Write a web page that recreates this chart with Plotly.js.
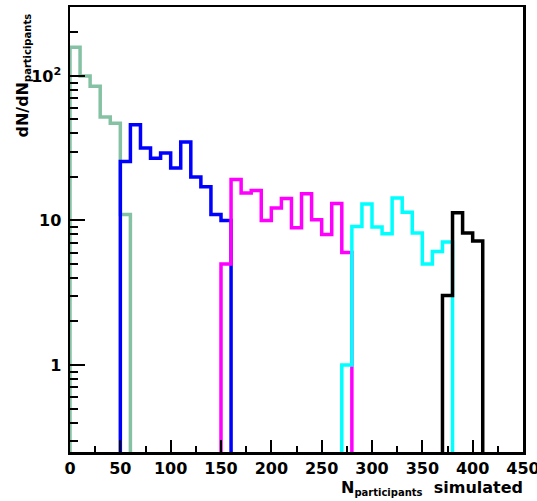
<!DOCTYPE html>
<html>
<head>
<meta charset="utf-8">
<script src="https://cdn.plot.ly/plotly-3.0.1.min.js"></script>
<style>
  html, body { margin: 0; padding: 0; background: #ffffff; }
  #chart { width: 537px; height: 501px; }
</style>
</head>
<body>
<div id="chart"></div>
<script>
// Participant-number distributions per centrality class (bin width 10)
const BIN_WIDTH = 10;

const greenBins   = [0, 10, 20, 30, 40, 50];
const greenCounts = [158, 100, 85, 52, 47, 11];

const blueBins   = [50, 60, 70, 80, 90, 100, 110, 120, 130, 140, 150];
const blueCounts = [25.6, 45.9, 31.7, 27.0, 29.3, 23.1, 34.9, 20.0, 17.1, 11.0, 10.0];

const magentaBins   = [150, 160, 170, 180, 190, 200, 210, 220, 230, 240, 250, 260, 270];
const magentaCounts = [5.0, 19.2, 15.5, 16.1, 10.0, 12.2, 14.2, 8.9, 15.3, 10.1, 8.0, 13.1, 6.0];

const cyanBins   = [270, 280, 290, 300, 310, 320, 330, 340, 350, 360, 370];
const cyanCounts = [1.0, 9.1, 13.0, 9.0, 8.1, 14.3, 11.4, 8.2, 5.0, 6.1, 7.1];

const blackBins   = [370, 380, 390, 400];
const blackCounts = [3.03, 11.3, 8.2, 7.2];

// Axis ticks
const xTicks = [0, 50, 100, 150, 200, 250, 300, 350, 400, 450];
const xMinorTicks = [25, 75, 125, 175, 225, 275, 325, 375, 425];
const yTicks = [1, 10, 100];
const yTickText = ['1', '10', '10<sup>2</sup>'];
const yMinorTicks = [0.3, 0.4, 0.5, 0.6, 0.7, 0.8, 0.9,
                     2, 3, 4, 5, 6, 7, 8, 9,
                     20, 30, 40, 50, 60, 70, 80, 90, 200];

const Y_MIN = 0.25, Y_MAX = 300;
// histogram outline drops below the visible range at both ends
const FLOOR = 0.05;

function histTrace(bins, counts, color) {
  const x = [bins[0]];
  const y = [FLOOR];
  for (let i = 0; i < bins.length; i++) {
    x.push(bins[i]);
    y.push(counts[i]);
  }
  x.push(bins[bins.length - 1] + BIN_WIDTH);
  y.push(FLOOR);
  return {
    type: 'scatter',
    mode: 'lines',
    x: x,
    y: y,
    line: { shape: 'hv', color: color, width: 3.5 },
    hoverinfo: 'skip',
    showlegend: false
  };
}

const data = [
  histTrace(greenBins, greenCounts, '#85c2a3'),
  histTrace(blueBins, blueCounts, '#0000ff'),
  histTrace(magentaBins, magentaCounts, '#ff00ff'),
  histTrace(cyanBins, cyanCounts, '#00ffff'),
  histTrace(blackBins, blackCounts, '#000000')
];

const tickFont = { family: 'DejaVu Sans', size: 16, color: '#000000', weight: 'bold' };

const layout = {
  width: 537,
  height: 501,
  margin: { l: 70, r: 14, t: 7, b: 49, pad: 0 },
  paper_bgcolor: '#ffffff',
  plot_bgcolor: '#ffffff',
  showlegend: false,
  xaxis: {
    range: [0, 450],
    tickmode: 'array',
    tickvals: xTicks,
    ticktext: xTicks.map(String),
    tickangle: 0,
    ticklabeloverflow: 'allow',
    ticks: 'inside',
    ticklen: 12,
    tickwidth: 2,
    tickcolor: '#000000',
    minor: { tickmode: 'array', tickvals: xMinorTicks, ticks: 'inside', ticklen: 6, tickwidth: 2, tickcolor: '#000000', showgrid: false },
    showgrid: false,
    zeroline: false,
    showline: true,
    linecolor: '#000000',
    linewidth: 2.5,
    mirror: true,
    tickfont: tickFont,
    fixedrange: true
  },
  yaxis: {
    type: 'log',
    range: [Math.log10(Y_MIN), Math.log10(Y_MAX)],
    tickmode: 'array',
    tickvals: yTicks,
    ticktext: yTickText,
    ticklabeloverflow: 'allow',
    ticks: 'inside',
    ticklen: 15,
    tickwidth: 2,
    tickcolor: '#000000',
    minor: { tickmode: 'array', tickvals: yMinorTicks, ticks: 'inside', ticklen: 8, tickwidth: 2, tickcolor: '#000000', showgrid: false },
    showgrid: false,
    zeroline: false,
    showline: true,
    linecolor: '#000000',
    linewidth: 2.5,
    mirror: true,
    tickfont: tickFont,
    ticklabelstandoff: 3,
    fixedrange: true
  },
  annotations: [
    {
      text: 'dN/dN<sub><span style="font-size:10px">participants</span></sub>',
      xref: 'paper', yref: 'paper',
      x: -0.13, y: 0.99,
      xanchor: 'left', yanchor: 'top',
      textangle: -90,
      showarrow: false,
      font: { family: 'DejaVu Sans', size: 16, color: '#000000', weight: 'bold' }
    },
    {
      text: 'N<sub><span style="font-size:10px">participants</span></sub>  simulated',
      xref: 'paper', yref: 'paper',
      x: 1.005, y: -0.108,
      xanchor: 'right', yanchor: 'bottom',
      showarrow: false,
      font: { family: 'DejaVu Sans', size: 16, color: '#000000', weight: 'bold' }
    }
  ]
};

Plotly.newPlot('chart', data, layout, { displayModeBar: false, staticPlot: true });
</script>
</body>
</html>
